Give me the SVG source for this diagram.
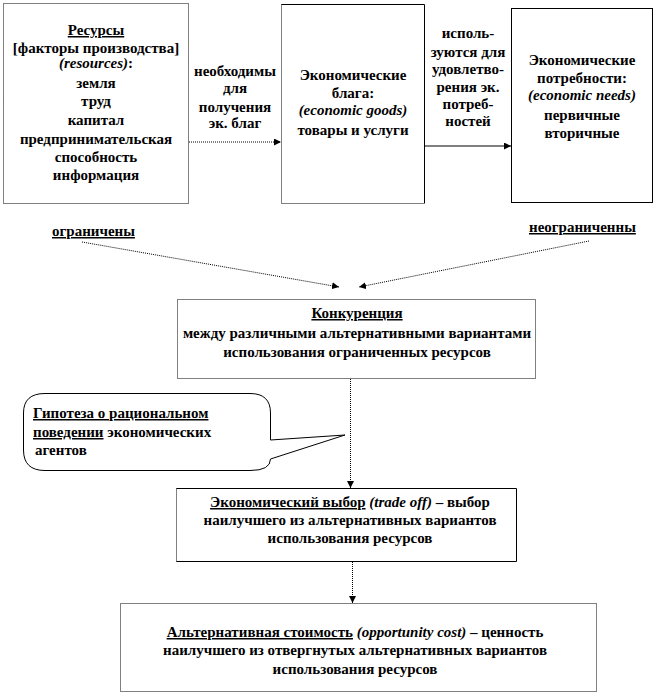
<svg xmlns="http://www.w3.org/2000/svg" width="664" height="695" viewBox="0 0 664 695" font-family="Liberation Serif, Times New Roman, serif">
<style>
text{font-weight:bold;font-size:15px;fill:#000}
.c{text-anchor:middle}
.i{font-style:italic}
.u{text-decoration:underline}
.box{fill:#fff;stroke:#000;stroke-width:1}
.dot{stroke-dasharray:1 1}
.ln{fill:none;stroke:#000;stroke-width:1}
</style>
<defs>
<marker id="ah" viewBox="0 0 10 10" refX="10" refY="5" markerWidth="7" markerHeight="7" markerUnits="userSpaceOnUse" orient="auto">
<path d="M0,0 L10,5 L0,10 Z" fill="#000"/>
</marker>
</defs>
<rect width="664" height="695" fill="#fff"/>

<g id="resources">
<rect class="box dot" x="3.5" y="3.5" width="185" height="200"/>
<text class="c" x="96" y="35"><tspan class="u">Ресурсы</tspan></text>
<text class="c" x="96" y="53">[факторы производства]</text>
<text class="c" x="96" y="68"><tspan class="i">(resources)</tspan>:</text>
<text class="c" x="96" y="88">земля</text>
<text class="c" x="96" y="106">труд</text>
<text class="c" x="96" y="125">капитал</text>
<text class="c" x="96" y="144">предпринимательская</text>
<text class="c" x="96" y="162">способность</text>
<text class="c" x="96" y="180">информация</text>
</g>

<g id="goods">
<rect x="281.5" y="4.5" width="143" height="199" fill="#fff"/>
<path class="ln" d="M281.5,4.5 H424.5 V203.5"/>
<path class="ln dot" d="M281.5,4.5 V203.5 H424.5"/>
<text class="c" x="353" y="80">Экономические</text>
<text class="c" x="353" y="98">блага:</text>
<text class="c i" x="353" y="115">(economic goods)</text>
<text class="c" x="353" y="135">товары и услуги</text>
</g>

<g id="needs">
<rect class="box" x="511.5" y="8.5" width="141" height="194"/>
<text class="c" x="582" y="65">Экономические</text>
<text class="c" x="582" y="83">потребности:</text>
<text class="c i" x="582" y="100">(economic needs)</text>
<text class="c" x="582" y="120">первичные</text>
<text class="c" x="582" y="138">вторичные</text>
</g>

<g id="label-needed">
<text class="c" x="235" y="76">необходимы</text>
<text class="c" x="235" y="93">для</text>
<text class="c" x="235" y="112">получения</text>
<text class="c" x="235" y="128">эк. благ</text>
</g>

<g id="label-used">
<text class="c" x="468" y="38">исполь-</text>
<text class="c" x="468" y="57">зуются для</text>
<text class="c" x="468" y="74">удовлетво-</text>
<text class="c" x="468" y="92">рения эк.</text>
<text class="c" x="468" y="109">потреб-</text>
<text class="c" x="468" y="126">ностей</text>
</g>

<g id="limited">
<text x="52" y="236"><tspan class="u">ограничены</tspan></text>
</g>
<g id="unlimited">
<text x="529" y="232"><tspan class="u">неограниченны</tspan></text>
</g>

<g id="competition">
<rect class="box dot" x="177.5" y="299.5" width="358" height="79"/>
<text class="c" x="357" y="318"><tspan class="u">Конкуренция</tspan></text>
<text class="c" x="357" y="338">между различными альтернативными вариантами</text>
<text class="c" x="357" y="357">использования ограниченных ресурсов</text>
</g>

<g id="hypothesis">
<path class="ln" d="M45,393.5 H250 Q270.5,393.5 270.5,413 V440 L345,435 L270.5,459 Q270.5,470.5 250,470.5 H45 Q23.5,470.5 23.5,450 V413 Q23.5,393.5 45,393.5 Z" style="fill:#fff"/>
<text x="33" y="418"><tspan class="u">Гипотеза о рациональном</tspan></text>
<text x="33" y="437"><tspan class="u">поведении</tspan> экономических</text>
<text x="35" y="455">агентов</text>
</g>

<g id="choice">
<rect x="176.5" y="488.5" width="340" height="73" fill="#fff"/>
<path class="ln" d="M176.5,488.5 H516.5 V561.5 H176.5"/>
<path class="ln dot" d="M176.5,488.5 V561.5"/>
<text class="c" x="350" y="507"><tspan class="u">Экономический выбор</tspan> <tspan class="i">(trade off)</tspan> – выбор</text>
<text class="c" x="350" y="525">наилучшего  из альтернативных вариантов</text>
<text class="c" x="350" y="543">использования ресурсов</text>
</g>

<g id="opportunity">
<rect class="box dot" x="120.5" y="603.5" width="476" height="88"/>
<text class="c" x="355" y="637"><tspan class="u">Альтернативная стоимость</tspan> <tspan class="i">(opportunity cost)</tspan> – ценность</text>
<text class="c" x="355" y="655">наилучшего  из отвергнутых  альтернативных вариантов</text>
<text class="c" x="355" y="674">использования ресурсов</text>
</g>

<g id="connectors">
<line class="ln dot" x1="189" y1="142" x2="281" y2="142" marker-end="url(#ah)"/>
<line class="ln" x1="425" y1="146" x2="511" y2="146" marker-end="url(#ah)"/>
<line class="ln dot" x1="82" y1="242" x2="339" y2="287" marker-end="url(#ah)"/>
<line class="ln dot" x1="589" y1="241" x2="359" y2="287" marker-end="url(#ah)"/>
<line class="ln dot" x1="350.5" y1="379" x2="350.5" y2="488" marker-end="url(#ah)"/>
<line class="ln dot" x1="352.5" y1="562" x2="352.5" y2="603" marker-end="url(#ah)"/>
</g>
</svg>
